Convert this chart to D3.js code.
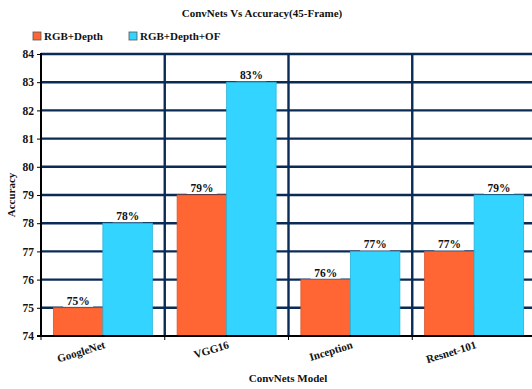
<!DOCTYPE html>
<html>
<head>
<meta charset="utf-8">
<script src="https://cdn.jsdelivr.net/npm/d3@7"></script>
<style>
  html, body { margin: 0; padding: 0; background: #fff; }
  svg { display: block; }
  text { font-family: "Liberation Serif", "DejaVu Serif", serif; font-weight: bold; fill: #111; }
</style>
</head>
<body>
<svg id="chart" width="532" height="389"></svg>
<script>
// Accuracy of each ConvNet backbone, 45-frame setting
const models = ["GoogleNet", "VGG16", "Inception", "Resnet-101"];
const seriesNames = ["RGB+Depth", "RGB+Depth+OF"];
const rgbDepth = [75, 79, 76, 77];
const rgbDepthOF = [78, 83, 77, 79];
const yTicks = [74, 75, 76, 77, 78, 79, 80, 81, 82, 83, 84];
const colors = ["#ff6633", "#33d4ff"];
const edgeColors = ["#d9542a", "#2bb3d9"];

const svg = d3.select("#chart");
const W = 532, H = 389;
const x0 = 41, x1 = 536;   // plot continues just past the right edge
const yTop = 54, yBot = 336;

const x = d3.scaleBand().domain(models).range([x0, x1]).paddingInner(0).paddingOuter(0);
const xs = d3.scaleBand().domain(seriesNames).range([0, x.bandwidth()]).paddingInner(0).paddingOuter(0.25);
const y = d3.scaleLinear().domain([74, 84]).range([yBot, yTop]);

// Horizontal grid lines
svg.append("g").selectAll("line").data(yTicks.slice(1)).join("line")
  .attr("x1", x0).attr("x2", W)
  .attr("y1", d => y(d)).attr("y2", d => y(d))
  .attr("stroke", "#0b2b57").attr("stroke-width", 2.4);

// Vertical separators between categories
svg.append("g").selectAll("line").data(models.slice(1)).join("line")
  .attr("x1", d => x(d)).attr("x2", d => x(d))
  .attr("y1", yTop - 1).attr("y2", yBot)
  .attr("stroke", "#0b2b57").attr("stroke-width", 2.4);

// Bars
const rows = models.map((m, i) => ({ model: m, values: [rgbDepth[i], rgbDepthOF[i]] }));
const groups = svg.append("g").selectAll("g").data(rows).join("g")
  .attr("transform", d => `translate(${x(d.model)},0)`);

groups.selectAll("rect").data(d => d.values.map((v, k) => ({ v, k }))).join("rect")
  .attr("x", d => xs(seriesNames[d.k]))
  .attr("width", xs.bandwidth())
  .attr("y", d => y(d.v))
  .attr("height", d => y(74) - y(d.v))
  .attr("fill", d => colors[d.k])
  .attr("stroke", d => edgeColors[d.k])
  .attr("stroke-width", 0.8);

// Value labels with white backing boxes
const labels = groups.selectAll("g.lbl").data(d => d.values.map((v, k) => ({ v, k }))).join("g")
  .attr("class", "lbl")
  .attr("transform", d => `translate(${xs(seriesNames[d.k]) + xs.bandwidth() / 2},${y(d.v)})`);
labels.append("rect")
  .attr("x", -15).attr("y", -12).attr("width", 30).attr("height", 11).attr("fill", "#fff");
labels.append("text")
  .attr("text-anchor", "middle").attr("y", -3)
  .attr("font-size", 11.5)
  .text(d => d.v + "%");

// Axes
const yAxis = d3.axisLeft(y).tickValues(yTicks).tickSize(4).tickFormat(d3.format("d"));
const gy = svg.append("g").attr("transform", `translate(${x0},0)`).call(yAxis);
gy.select(".domain").attr("stroke", "#000").attr("stroke-width", 2).attr("d", `M0,${yTop - 1}V${yBot}`);
gy.selectAll(".tick line").attr("stroke", "#000");
gy.selectAll(".tick text").attr("font-size", 11.5).attr("font-family", "Liberation Serif")
  .attr("font-weight", "bold").attr("fill", "#111").attr("x", -7);

svg.append("line").attr("x1", x0 - 4).attr("x2", W).attr("y1", yBot).attr("y2", yBot)
  .attr("stroke", "#000").attr("stroke-width", 2);
svg.append("g").selectAll("line").data(models).join("line")
  .attr("x1", d => x(d)).attr("x2", d => x(d))
  .attr("y1", yBot).attr("y2", yBot + 4)
  .attr("stroke", "#000").attr("stroke-width", 1);

// Rotated category labels
svg.append("g").selectAll("text").data(models).join("text")
  .attr("transform", d => `translate(${x(d) + x.bandwidth() / 2 + 3},${yBot + 12}) rotate(-17)`)
  .attr("text-anchor", "end")
  .attr("font-size", 11)
  .text(d => d);

// Titles
svg.append("text").attr("x", 262).attr("y", 17).attr("text-anchor", "middle")
  .attr("font-size", 11).text("ConvNets Vs Accuracy(45-Frame)");
svg.append("text").attr("x", 288).attr("y", 382).attr("text-anchor", "middle")
  .attr("font-size", 11).text("ConvNets Model");
svg.append("text").attr("transform", "translate(15,195) rotate(-90)").attr("text-anchor", "middle")
  .attr("font-size", 11).text("Accuracy");

// Legend
const legendX = [33, 129];
const lg = svg.append("g").selectAll("g").data(seriesNames).join("g")
  .attr("transform", (d, i) => `translate(${legendX[i]},32)`);
lg.append("rect").attr("width", 8).attr("height", 8)
  .attr("fill", (d, i) => colors[i]).attr("stroke", "#555").attr("stroke-width", 0.8);
lg.append("text").attr("x", 11).attr("y", 8).attr("font-size", 11).text(d => d);
</script>
</body>
</html>
